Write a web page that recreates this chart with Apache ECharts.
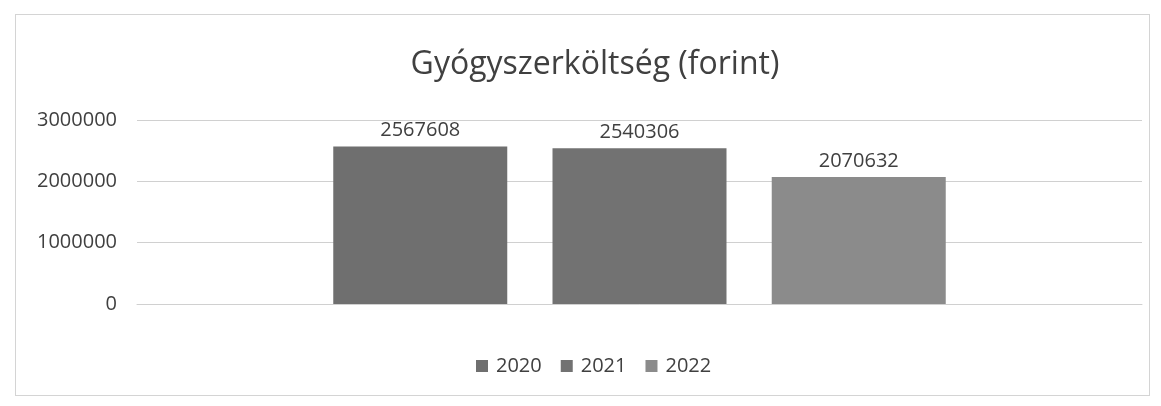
<!DOCTYPE html>
<html>
<head>
<meta charset="utf-8">
<script src="https://cdn.jsdelivr.net/npm/echarts@6/dist/echarts.min.js"></script>
<style>
html,body{margin:0;padding:0;background:#fff;}
#wrap{position:relative;width:1161px;height:406px;}
#frame{position:absolute;left:15px;top:14px;width:1133px;height:380px;border:1px solid #d4d4d4;}
#chart{position:absolute;left:0;top:0;width:1161px;height:406px;}
</style>
</head>
<body>
<div id="wrap"><div id="frame"></div><div id="chart"></div></div>
<script>
const titleText = 'Gyógyszerköltség (forint)';
const categories = [''];
const seriesNames = ['2020', '2021', '2022'];
const values2020 = [2567608];
const values2021 = [2540306];
const values2022 = [2070632];
const seriesColors = ['#6f6f6f', '#727272', '#8b8b8b'];
const yTicks = [0, 1000000, 2000000, 3000000];

const seriesValues = [values2020, values2021, values2022];
const fontFam = '"Open Sans", "Noto Sans", sans-serif';

const chart = echarts.init(document.getElementById('chart'), null, {renderer: 'canvas'});
chart.setOption({
  backgroundColor: 'transparent',
  animation: false,
  title: {
    text: titleText,
    left: 590,
    textAlign: 'center',
    top: 44,
    textStyle: {fontFamily: fontFam, fontSize: 32, fontWeight: 'normal', color: '#404040'}
  },
  legend: {
    data: seriesNames,
    top: 351,
    left: 471,
    itemWidth: 12,
    itemHeight: 12,
    itemGap: 19,
    icon: 'rect',
    textStyle: {fontFamily: fontFam, fontSize: 20, color: '#404040', padding: [0, 0, 0, 3]}
  },
  grid: {left: 137, right: 19, top: 120, bottom: 102},
  xAxis: {
    type: 'category',
    data: categories,
    axisLine: {show: true, lineStyle: {color: '#d0d0d0', width: 1}},
    axisTick: {show: false},
    axisLabel: {show: false}
  },
  yAxis: {
    type: 'value',
    min: yTicks[0],
    max: yTicks[yTicks.length - 1],
    interval: yTicks[1] - yTicks[0],
    axisLine: {show: false},
    axisTick: {show: false},
    axisLabel: {fontFamily: fontFam, fontSize: 20, color: '#404040', margin: 20, formatter: v => String(v)},
    splitLine: {lineStyle: {color: '#d0d0d0', width: 1}}
  },
  series: seriesNames.map((name, i) => ({
    name: name,
    type: 'bar',
    data: seriesValues[i],
    barWidth: 174,
    barGap: '26%',
    itemStyle: {color: seriesColors[i]},
    label: {
      show: true,
      position: 'top',
      distance: 6,
      fontFamily: fontFam,
      fontSize: 20,
      color: '#404040'
    }
  }))
});
</script>
</body>
</html>
